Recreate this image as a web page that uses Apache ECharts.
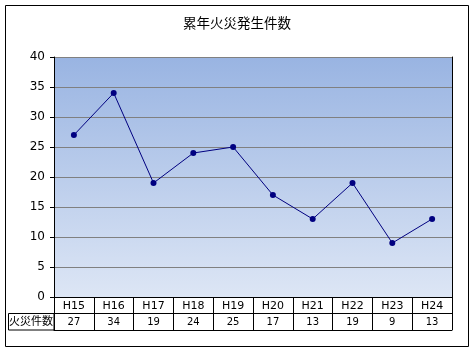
<!DOCTYPE html>
<html>
<head>
<meta charset="utf-8">
<script src="https://cdn.jsdelivr.net/npm/echarts@6/dist/echarts.min.js"></script>
<style>
  html, body { margin: 0; padding: 0; background: #fff; }
  #main { width: 474px; height: 353px; }
</style>
</head>
<body>
<div id="main"></div>
<script>
// 年度と件数
var years = ['H15', 'H16', 'H17', 'H18', 'H19', 'H20', 'H21', 'H22', 'H23', 'H24'];
var fires = [27, 34, 19, 24, 25, 17, 13, 19, 9, 13];
var rowName = '火災件数';

var jpFont = '"Noto Sans CJK JP", sans-serif';
var chart = echarts.init(document.getElementById('main'));

var option = {
  backgroundColor: '#fff',
  animation: false,
  title: {
    text: '累年火災発生件数',
    left: 'center',
    top: 11,
    textStyle: { fontFamily: jpFont, fontSize: 13.5, fontWeight: 'normal', color: '#000' }
  },
  grid: [
    { // グラフ本体
      left: 54, right: 22, top: 57, bottom: 56,
      show: true,
      borderWidth: 0,
      backgroundColor: new echarts.graphic.LinearGradient(0, 0, 0, 1, [
        { offset: 0, color: '#99b4e2' },
        { offset: 1, color: '#dde6f5' }
      ])
    },
    { // 件数の行
      left: 54, right: 22, top: 313, height: 17
    }
  ],
  xAxis: [
    { // 年度の行
      type: 'category',
      gridIndex: 0,
      data: years,
      axisLine: { lineStyle: { color: '#000', width: 1 } },
      axisTick: { show: true, interval: 0, length: 16, lineStyle: { color: '#000' } },
      axisLabel: { interval: 0, margin: 4, fontSize: 11, color: '#000', fontFamily: 'DejaVu Sans' },
      splitLine: { show: false }
    },
    { // 件数の行
      type: 'category',
      gridIndex: 1,
      position: 'bottom',
      data: years,
      axisLine: { lineStyle: { color: '#000', width: 1 } },
      axisTick: { show: true, inside: true, interval: 0, length: 17, lineStyle: { color: '#000' } },
      axisLabel: {
        inside: true, interval: 0, margin: 3, fontSize: 10, color: '#000', fontFamily: 'DejaVu Sans',
        formatter: function (v, i) { return fires[i]; }
      },
      splitLine: { show: false }
    },
    { // 件数の行の上線
      type: 'category',
      gridIndex: 1,
      position: 'top',
      data: years,
      axisLine: { lineStyle: { color: '#000', width: 1 } },
      axisTick: { show: false },
      axisLabel: { show: false },
      splitLine: { show: false }
    }
  ],
  yAxis: [
    {
      type: 'value',
      gridIndex: 0,
      min: 0, max: 40, interval: 5,
      axisLine: { show: true, lineStyle: { color: '#000' } },
      axisTick: { show: true, length: 4, lineStyle: { color: '#000' } },
      axisLabel: { margin: 9, fontSize: 12, color: '#000', fontFamily: 'DejaVu Sans' },
      splitLine: { lineStyle: { color: '#808080', width: 1 } }
    },
    {
      type: 'value',
      gridIndex: 0,
      position: 'right',
      min: 0, max: 40, interval: 5,
      axisLine: { show: true, lineStyle: { color: '#000' } },
      axisTick: { show: false },
      axisLabel: { show: false },
      splitLine: { show: false }
    },
    {
      type: 'value',
      gridIndex: 1,
      show: false
    }
  ],
  series: [{
    name: rowName,
    type: 'line',
    xAxisIndex: 0,
    yAxisIndex: 0,
    data: fires,
    symbol: 'circle',
    symbolSize: 6,
    lineStyle: { color: '#000080', width: 1 },
    itemStyle: { color: '#000080' }
  }],
  graphic: [
    { // 外枠
      type: 'rect',
      shape: { x: 5.5, y: 5.5, width: 463, height: 341 },
      style: { fill: 'none', stroke: '#000', lineWidth: 1 }
    },
    { // 行見出し
      type: 'rect',
      shape: { x: 8.5, y: 313.5, width: 45.5, height: 16.5 },
      style: { fill: 'none', stroke: '#000', lineWidth: 1 }
    },
    {
      type: 'text',
      left: 9, top: 315,
      style: { text: rowName, font: '11px "Noto Sans CJK JP"', fill: '#000' }
    }
  ]
};
chart.setOption(option);
</script>
</body>
</html>
